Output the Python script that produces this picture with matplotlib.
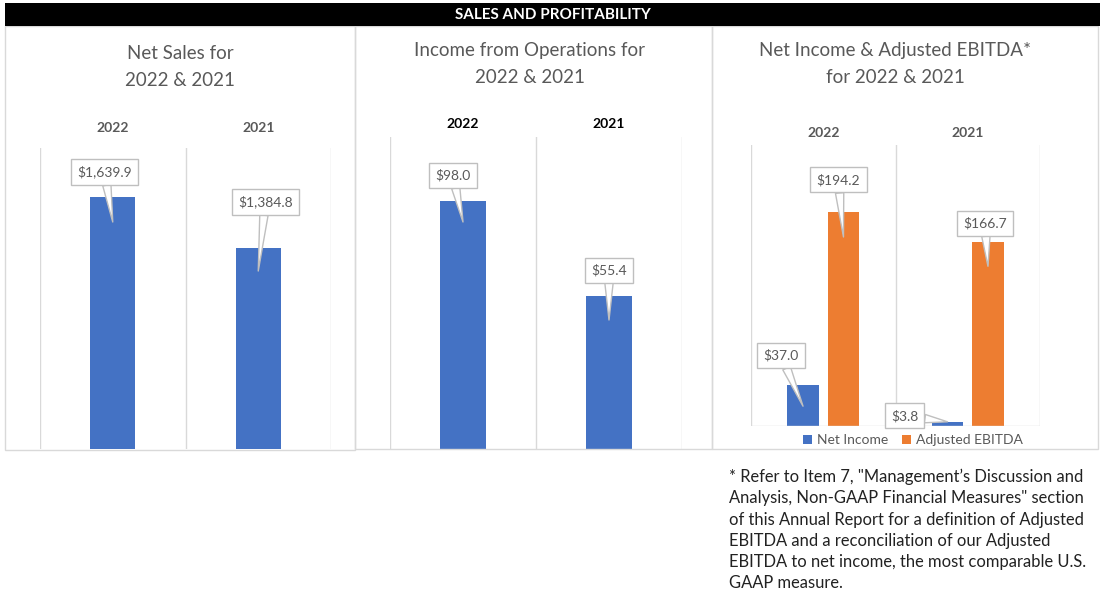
import matplotlib
matplotlib.use('Agg')
import matplotlib.pyplot as plt
import matplotlib.transforms as mtransforms
from matplotlib.patches import Rectangle

plt.rcParams['font.family'] = ['Lato', 'DejaVu Sans']

# 数据
years = ['2022', '2021']
net_sales = [1639.9, 1384.8]
income_ops = [98.0, 55.4]
net_income = [37.0, 3.8]
adj_ebitda = [194.2, 166.7]

W, H = 1105, 597
BLUE = '#4472c4'
ORANGE = '#ed7d31'
GRAY = '#595959'
GRID = '#d9d9d9'

fig = plt.figure(figsize=(W / 100, H / 100), dpi=100)


def px_axes(x0, y0, x1, y1):
    # 像素坐标 -> figure 坐标
    return fig.add_axes([x0 / W, 1 - y1 / H, (x1 - x0) / W, (y1 - y0) / H])


def px_text(x, y, s, **kw):
    fig.text(x / W, 1 - y / H, s, **kw)


# 面板边框
for x0, x1, y1 in [(5, 355, 450), (355, 712, 449), (712, 1098, 449)]:
    fig.patches.append(Rectangle((x0 / W, 1 - y1 / H), (x1 - x0) / W, (y1 - 26) / H,
                                 transform=fig.transFigure, fc='none', ec=GRID, lw=1))
# 顶部黑色标题条
fig.patches.append(Rectangle((5 / W, 1 - 26 / H), 1095 / W, 23 / H,
                             transform=fig.transFigure, fc='black', ec='none'))
px_text(553, 15, 'SALES AND PROFITABILITY', color='white', fontsize=11,
        fontweight='bold', ha='center', va='center')

# 面板标题
title_kw = dict(color=GRAY, fontsize=13.5, ha='center', va='center', linespacing=1.7)
px_text(180, 67, 'Net Sales for\n2022 & 2021', **title_kw)
px_text(530, 64, 'Income from Operations for\n2022 & 2021', **title_kw)
px_text(895, 64, 'Net Income & Adjusted EBITDA*\nfor 2022 & 2021', **title_kw)


def style_axes(ax, ylim, label_color, pad):
    ax.set_xlim(-0.5, 1.5)
    ax.set_ylim(*ylim)
    for s in ax.spines.values():
        s.set_visible(False)
    for xv in [-0.5, 0.5, 1.5]:
        ax.axvline(xv, color=GRID, lw=1, zorder=0)
    ax.xaxis.tick_top()
    ax.set_xticks(range(len(years)))
    ax.set_xticklabels(years, fontsize=10, fontweight='bold', color=label_color)
    ax.tick_params(axis='x', length=0, pad=pad)
    ax.set_yticks([])
    ax.patch.set_alpha(0)


def callout(ax, x, y, label, dx, dy, tip_drop):
    tip = mtransforms.offset_copy(ax.transData, fig=fig, y=-tip_drop, units='dots')
    ax.annotate(label, xy=(x, y), xycoords=tip,
                xytext=(dx, dy), textcoords='offset pixels',
                ha='center', va='center', fontsize=10, color=GRAY,
                bbox=dict(boxstyle='square,pad=0.45', fc='white', ec='#bfbfbf', lw=1),
                arrowprops=dict(arrowstyle='wedge,tail_width=0.6', fc='white',
                                ec='#bfbfbf', lw=1, shrinkA=0, shrinkB=0),
                zorder=5)


xs = list(range(len(years)))

# 面板1：Net Sales（纵轴不从0开始，柱子从轴底部画起）
ax1 = px_axes(40, 148, 331, 449)
y1 = (380, 1885)
ax1.bar(xs, [v - y1[0] for v in net_sales], bottom=y1[0], width=0.31, color=BLUE, zorder=2)
style_axes(ax1, y1, GRAY, 10)
callout(ax1, 0, net_sales[0], '$1,639.9', -8, 50, 25)
callout(ax1, 1, net_sales[1], '$1,384.8', 7, 69, 23)

# 面板2：Income from Operations
ax2 = px_axes(390, 137, 682, 449)
y2 = (-13.2, 126.7)
ax2.bar(xs, [v - y2[0] for v in income_ops], bottom=y2[0], width=0.315, color=BLUE, zorder=2)
style_axes(ax2, y2, 'black', 5)
callout(ax2, 0, income_ops[0], '$98.0', -10, 47, 21)
callout(ax2, 1, income_ops[1], '$55.4', 0, 50, 24)

# 面板3：Net Income & Adjusted EBITDA
ax3 = px_axes(751, 145, 1040, 426)
bw, off = 0.22, 0.14
ax3.bar([x - off for x in xs], net_income, width=bw, color=BLUE, zorder=2, label='Net Income')
ax3.bar([x + off for x in xs], adj_ebitda, width=bw, color=ORANGE, zorder=2, label='Adjusted EBITDA')
style_axes(ax3, (0, 255), GRAY, 4)
ax3.axhline(0, color=GRID, lw=1, zorder=3)
callout(ax3, 0 - off, net_income[0], '$37.0', -22, 51, 21)
callout(ax3, 0 + off, adj_ebitda[0], '$194.2', -5, 57, 25)
callout(ax3, 1 - off, net_income[1], '$3.8', -43, 6, 0)
callout(ax3, 1 + off, adj_ebitda[1], '$166.7', -3, 43, 24)
ax3.legend(loc='upper center', bbox_to_anchor=(0.559, -0.01), ncol=2, frameon=False,
           fontsize=10, labelcolor=GRAY, handlelength=0.7, handleheight=0.7,
           handletextpad=0.3, columnspacing=1.0, borderaxespad=0)

# 脚注
note = ('* Refer to Item 7, "Management\u2019s Discussion and\n'
        'Analysis, Non-GAAP Financial Measures" section\n'
        'of this Annual Report for a definition of Adjusted\n'
        'EBITDA and a reconciliation of our Adjusted\n'
        'EBITDA to net income, the most comparable U.S.\n'
        'GAAP measure.')
px_text(729, 469, note, fontsize=11.9, color='#222222', ha='left', va='top', linespacing=1.39)

fig.savefig('out.png', dpi=100)
